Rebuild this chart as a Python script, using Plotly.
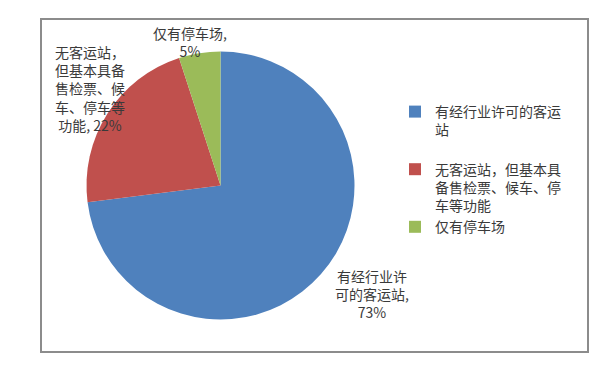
import plotly.graph_objects as go

# ---- data ----
categories = ["有经行业许可的客运站", "无客运站，但基本具备售检票、候车、停车等功能", "仅有停车场"]
values = [73, 22, 5]
legend_text = ["有经行业许可的客运<br>站", "无客运站，但基本具<br>备售检票、候车、停<br>车等功能", "仅有停车场"]
slice_label_text = [
    "有经行业许<br>可的客运站,<br>{v}%",
    "无客运站，<br>但基本具备<br>售检票、候<br>车、停车等<br>功能, {v}%",
    "仅有停车场,<br>{v}%",
]
colors = ["#4F81BD", "#C0504D", "#9BBB59"]

W, H = 615, 376
OFF = 8  # page body margin in the browser
FONT = "Noto Sans CJK SC, Noto Sans, sans-serif"
TXT = "#3a3a3a"


def px(x):
    return (x - OFF) / W


def py(y):
    return 1 - (y - OFF) / H


cx, cy, r = 220.5, 185.5, 134

# extra spacing after the first legend entry, as in the reference
legend_names = [legend_text[0] + "<br> "] + legend_text[1:]

fig = go.Figure(go.Pie(
    labels=legend_names,
    values=values,
    sort=False,
    direction="clockwise",
    rotation=0,
    marker=dict(colors=colors, line=dict(width=0)),
    textinfo="none",
    hoverinfo="label+percent",
    domain=dict(x=[px(cx - r), px(cx + r)], y=[py(cy + r), py(cy - r)]),
))

label_centers = [(372, 294), (90, 88.5), (190, 42)]
annotations = []
for tmpl, v, (lx, ly) in zip(slice_label_text, values, label_centers):
    annotations.append(dict(
        x=px(lx), y=py(ly), xref="paper", yref="paper",
        text=tmpl.format(v=v), showarrow=False,
        xanchor="center", yanchor="middle", align="center",
        font=dict(family=FONT, size=14, color=TXT),
    ))

fig.update_layout(
    width=W, height=H,
    margin=dict(l=0, r=0, t=0, b=0),
    paper_bgcolor="white",
    plot_bgcolor="white",
    font=dict(family=FONT, size=14, color=TXT),
    showlegend=True,
    legend=dict(
        x=px(395), y=py(96), xanchor="left", yanchor="top",
        valign="top",
        font=dict(family=FONT, size=14, color=TXT),
        bgcolor="rgba(0,0,0,0)",
        itemwidth=30,
        tracegroupgap=0,
    ),
    annotations=annotations,
    shapes=[dict(
        type="rect", xref="paper", yref="paper",
        x0=px(41), x1=px(588), y0=py(352), y1=py(19),
        line=dict(color="#8c8c8c", width=2), fillcolor="rgba(0,0,0,0)",
        layer="below",
    )],
)

fig.write_html("out.html")
